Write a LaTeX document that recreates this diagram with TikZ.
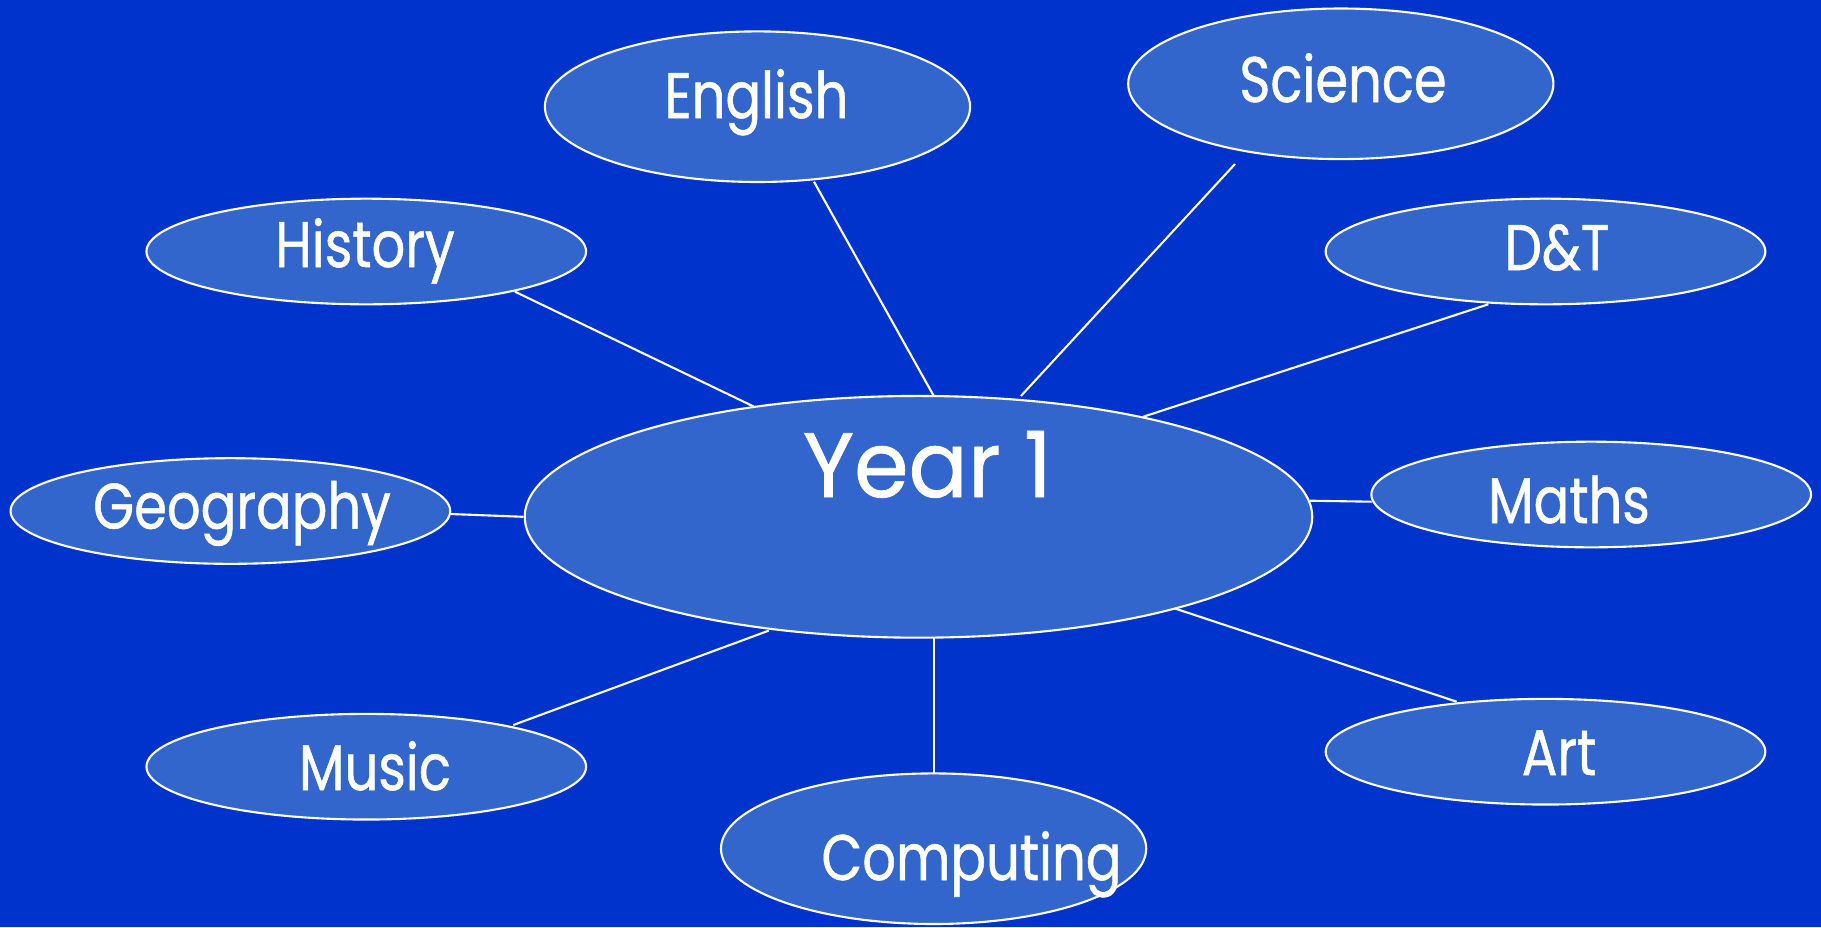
\documentclass[tikz,border=0pt]{standalone}
\usepackage{fontspec}
\setmainfont{Poppins}
\newfontfamily\labelfont[FakeStretch=0.82,FakeBold=0.8]{Poppins}
\newfontfamily\yearfont[FakeStretch=0.96,FakeBold=0.8]{Poppins}
\usetikzlibrary{shapes.geometric,calc}
\definecolor{bgblue}{HTML}{0033CC}
\definecolor{ellblue}{HTML}{3366CC}
\begin{document}
\begin{tikzpicture}[x=0.01cm,y=-0.01cm,
  bub/.style={ellipse, draw=white, line width=0.6pt, fill=ellblue, inner sep=0pt, outer sep=0pt},
  sm/.style={bub, minimum width=4.394cm, minimum height=1.056cm},
  md/.style={bub, minimum width=4.25cm, minimum height=1.505cm},
  big/.style={bub, minimum width=7.87cm, minimum height=2.416cm},
  lbl/.style={text=white, anchor=base, inner sep=0pt, font=\labelfont\fontsize{18.3}{22}\selectfont},
  biglbl/.style={lbl, font=\yearfont\fontsize{26}{30}\selectfont},
  link/.style={draw=white, line width=0.6pt}]
\fill[bgblue] (0,0) rectangle (1821,927);
\useasboundingbox (0,0) rectangle (1821,927);
% ellipses
\node[big] (year) at (918.5,516.8) {};
\node[md] (eng) at (757.5,106.7) {};
\node[md] (sci) at (1340.8,83.8) {};
\node[md] (comp) at (933.6,848.7) {};
\node[sm] (hist) at (366.3,251.5) {};
\node[sm] (dt) at (1545.5,251.5) {};
\node[sm] (geo) at (230.4,511) {};
\node[sm] (maths) at (1591.2,494.5) {};
\node[sm] (music) at (366.3,766.7) {};
\node[sm] (art) at (1545.5,751.7) {};
% labels
\node[biglbl] (tyear) at (927.5,497) {Year 1};
\node[lbl] (teng) at (756.5,118) {English};
\node[lbl] (tsci) at (1343,102) {Science};
\node[lbl] (thist) at (365,267) {History};
\node[lbl] (tdt) at (1557,270) {D\&T};
\node[lbl] (tgeo) at (242,528.6) {Geography};
\node[lbl] (tmaths) at (1569,523) {Maths};
\node[lbl] (tmusic) at (375,790) {Music};
\node[lbl] (tart) at (1559,775) {Art};
\node[lbl] (tcomp) at (971.5,880) {Computing};
% connectors
\coordinate (scifree) at (1235,164);
\draw[link] ($(hist.center)+(148.7,40.2)$) -- ($(year.center)+(-164.8,-110.3)$);
\draw[link] ($(eng.center)+(56.5,75)$) -- ($(year.center)+(15.3,-120.8)$);
\draw[link] (scifree) -- ($(year.center)+(102.4,-120.8)$);
\draw[link] ($(dt.center)+(-57.2,52.8)$) -- ($(year.center)+(224.8,-100.1)$);
\draw[link] ($(geo.center)+(220.3,3)$) -- ($(year.center)+(-395,0)$);
\draw[link] ($(maths.center)+(-219.5,7.2)$) -- ($(year.center)+(391.5,-16.1)$);
\draw[link] ($(music.center)+(147,-41.7)$) -- ($(year.center)+(-149.7,113.8)$);
\draw[link] ($(comp.center)+(0.2,-75.2)$) -- ($(year.center)+(15.3,120.8)$);
\draw[link] ($(art.center)+(-88.8,-50)$) -- ($(year.center)+(256.8,91.8)$);
\end{tikzpicture}
\end{document}
